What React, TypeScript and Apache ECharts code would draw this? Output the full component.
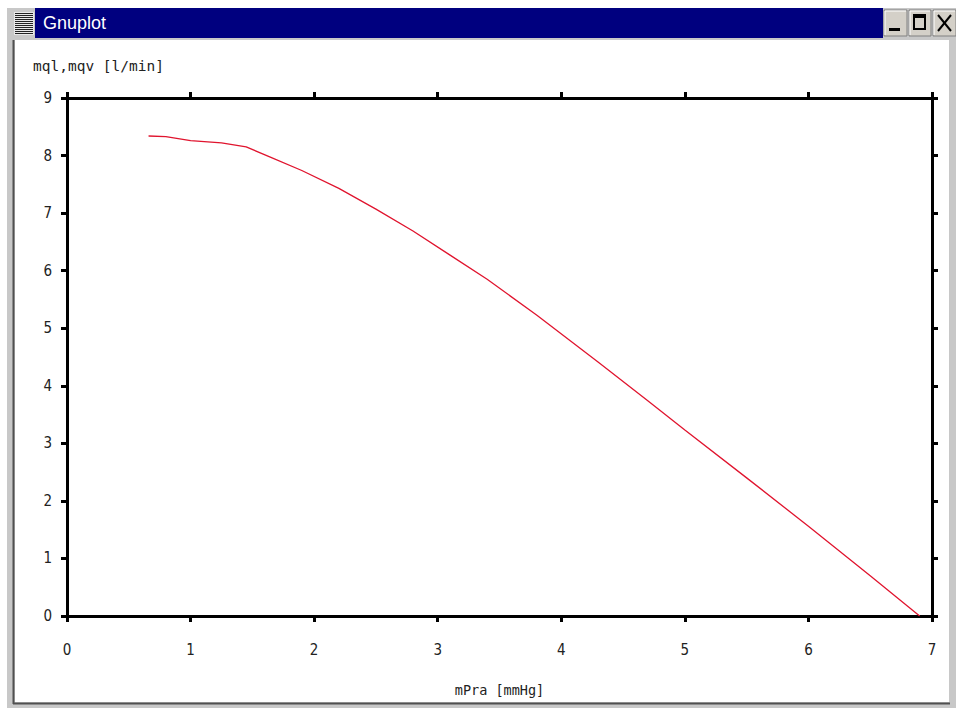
import React, { useEffect, useRef } from "react";
import * as echarts from "echarts";

const mPra = [0.66, 0.8, 1.0, 1.25, 1.45, 1.65, 1.9, 2.2, 2.5, 2.8, 3.1, 3.4, 3.8, 4.3, 4.7, 5.0, 5.5, 6.0, 6.5, 6.9];
const flow = [8.34, 8.33, 8.26, 8.22, 8.15, 7.97, 7.74, 7.43, 7.07, 6.69, 6.27, 5.85, 5.23, 4.41, 3.74, 3.23, 2.4, 1.56, 0.7, 0.0];
const windowTitle = "Gnuplot";
const yLabel = "mql,mqv [l/min]";
const xLabel = "mPra [mmHg]";

const tickFont = "'Liberation Sans Narrow', 'DejaVu Sans Condensed', 'DejaVu Sans', sans-serif";
const monoFont = "'DejaVu Sans Mono', 'Liberation Mono', monospace";

function axisCommon(min: number, max: number, showLabel: boolean, margin: number) {
  return {
    type: "value" as const,
    min,
    max,
    interval: 1,
    axisLine: { show: true, onZero: false, lineStyle: { color: "#000", width: 3 } },
    axisTick: { show: true, inside: false, length: 6, lineStyle: { color: "#000", width: 3 } },
    axisLabel: {
      show: showLabel,
      margin,
      color: "#222",
      fontSize: 15,
      fontFamily: tickFont,
    },
    splitLine: { show: false },
  };
}

export default function App() {
  const ref = useRef<HTMLDivElement>(null);
  useEffect(() => {
    if (!ref.current) return;
    const chart = echarts.init(ref.current, null, { renderer: "svg" });
    const btn = (x: number, w: number) => [
      { type: "rect", shape: { x, y: 10, width: w, height: 26 }, style: { fill: "#d4d0c8", stroke: "#808080", lineWidth: 1 } },
      { type: "polyline", shape: { points: [[x + 1, 35], [x + 1, 11], [x + w - 1, 11]] }, style: { stroke: "#ffffff", lineWidth: 1, fill: null } },
    ];
    const iconLines: any[] = [];
    for (let yy = 13.5; yy <= 34; yy += 2) {
      iconLines.push({ type: "line", shape: { x1: 15, y1: yy, x2: 33, y2: yy }, style: { stroke: "#222", lineWidth: 1 } });
    }
    const option: any = {
      animation: false,
      backgroundColor: "#ffffff",
      grid: { left: 67, right: 24, top: 98, bottom: 92, containLabel: false },
      xAxis: [
        {
          ...axisCommon(0, 7, true, 26),
          position: "bottom",
          name: xLabel,
          nameLocation: "middle",
          nameGap: 67,
          nameTextStyle: { fontFamily: monoFont, fontSize: 13.5, color: "#222" },
        },
        { ...axisCommon(0, 7, false, 8), position: "top" },
      ],
      yAxis: [
        { ...axisCommon(0, 9, true, 15), position: "left" },
        { ...axisCommon(0, 9, false, 8), position: "right" },
      ],
      series: [
        {
          type: "line",
          xAxisIndex: 0,
          yAxisIndex: 0,
          data: mPra.map((x, i) => [x, flow[i]]),
          showSymbol: false,
          symbol: "none",
          smooth: false,
          lineStyle: { color: "#e0142e", width: 1.3 },
        },
      ],
      graphic: [
        { type: "rect", shape: { x: 7, y: 8, width: 949, height: 700 }, style: { fill: "#c8c8c8" }, z: -20 },
        { type: "rect", shape: { x: 15, y: 40, width: 934, height: 662 }, style: { fill: "#ffffff" }, z: -19 },
        { type: "line", shape: { x1: 13.5, y1: 40, x2: 13.5, y2: 704 }, style: { stroke: "#505050", lineWidth: 2 }, z: -18 },
        { type: "line", shape: { x1: 13, y1: 703.5, x2: 950, y2: 703.5 }, style: { stroke: "#505050", lineWidth: 2 }, z: -18 },
        { type: "rect", shape: { x: 35, y: 8, width: 848, height: 30 }, style: { fill: "#00007f" }, z: -10 },
        { type: "rect", shape: { x: 7, y: 8, width: 28, height: 30 }, style: { fill: "#c8c8c8" }, z: -10 },
        { type: "rect", shape: { x: 14, y: 12, width: 20, height: 23 }, style: { fill: "#e8e8e8" }, z: -9 },
        ...iconLines,
        {
          type: "text",
          x: 43,
          y: 23,
          style: { text: windowTitle, fill: "#ffffff", font: "18px 'Liberation Sans', Arial, sans-serif", verticalAlign: "middle" },
        },
        { type: "rect", shape: { x: 883, y: 8, width: 73, height: 30 }, style: { fill: "#c8c8c8" }, z: -10 },
        ...btn(884, 23),
        ...btn(909, 22),
        ...btn(933, 23),
        { type: "rect", shape: { x: 889, y: 28, width: 11, height: 3 }, style: { fill: "#000" } },
        { type: "rect", shape: { x: 914, y: 15, width: 11, height: 14 }, style: { fill: "none", stroke: "#000", lineWidth: 2 } },
        { type: "rect", shape: { x: 914, y: 15, width: 11, height: 3 }, style: { fill: "#000" } },
        { type: "line", shape: { x1: 938, y1: 15, x2: 951, y2: 31 }, style: { stroke: "#000", lineWidth: 2 } },
        { type: "line", shape: { x1: 951, y1: 15, x2: 938, y2: 31 }, style: { stroke: "#000", lineWidth: 2 } },
        {
          type: "text",
          x: 33,
          y: 66,
          style: { text: yLabel, fill: "#222", font: `14.5px ${monoFont}`, verticalAlign: "middle" },
        },
      ],
    };
    chart.setOption(option);
    return () => chart.dispose();
  }, []);
  return <div ref={ref} style={{ position: "fixed", left: 0, top: 0, width: 956, height: 708 }} />;
}
